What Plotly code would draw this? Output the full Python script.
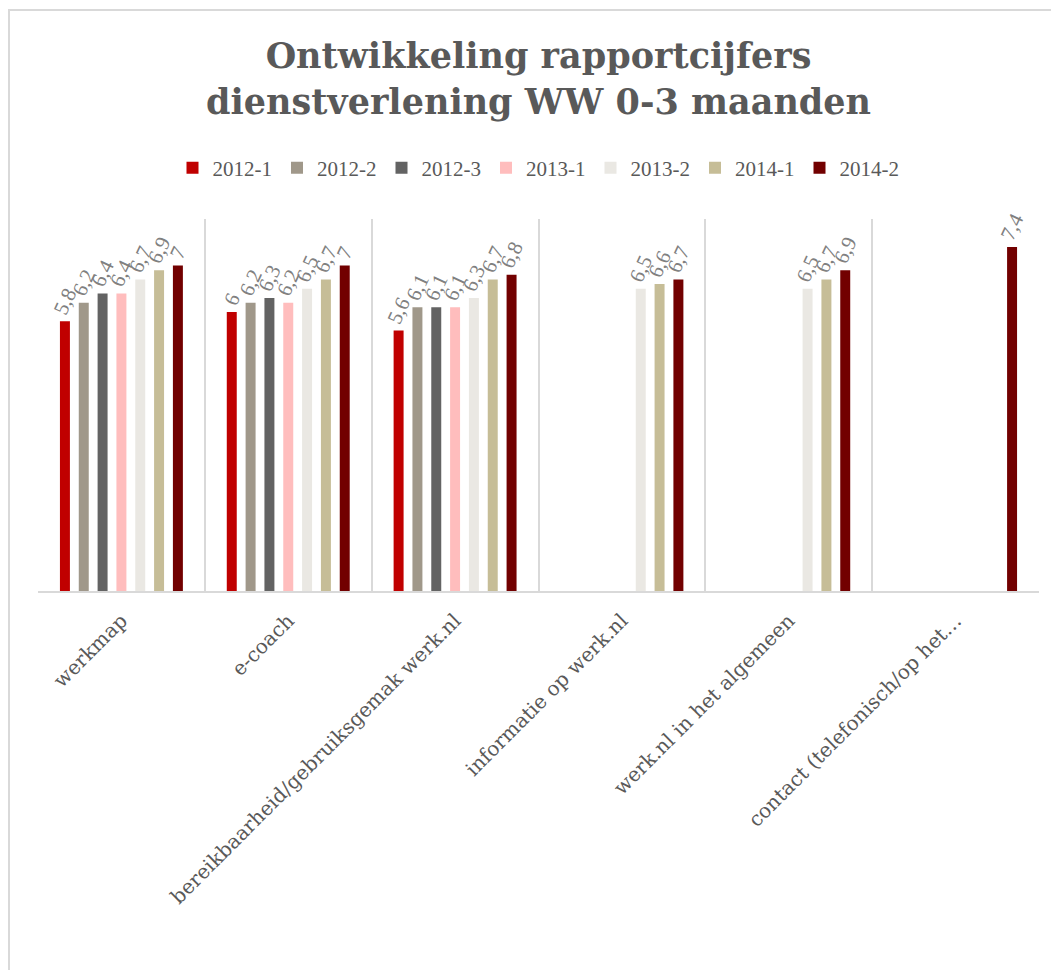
import plotly.graph_objects as go

categories = [
    "werkmap",
    "e-coach",
    "bereikbaarheid/gebruiksgemak werk.nl",
    "informatie op werk.nl",
    "werk.nl in het algemeen",
    "contact (telefonisch/op het…",
]

series_names = ["2012-1", "2012-2", "2012-3", "2013-1", "2013-2", "2014-1", "2014-2"]

s2012_1 = [5.8, 6.0, 5.6, None, None, None]
s2012_2 = [6.2, 6.2, 6.1, None, None, None]
s2012_3 = [6.4, 6.3, 6.1, None, None, None]
s2013_1 = [6.4, 6.2, 6.1, None, None, None]
s2013_2 = [6.7, 6.5, 6.3, 6.5, 6.5, None]
s2014_1 = [6.9, 6.7, 6.7, 6.6, 6.7, None]
s2014_2 = [7.0, 7.0, 6.8, 6.7, 6.9, 7.4]

series_values = [s2012_1, s2012_2, s2012_3, s2013_1, s2013_2, s2014_1, s2014_2]

colors = ["#C00000", "#A0988A", "#636363", "#FFBDBD", "#EAE8E3", "#C6BD97", "#720000"]


def fmt(v):
    if v is None:
        return ""
    return f"{v:g}".replace(".", ",")


fig = go.Figure()
for name, vals, col in zip(series_names, series_values, colors):
    fig.add_trace(go.Bar(
        name=name,
        x=categories,
        y=vals,
        marker=dict(color=col, line=dict(width=0)),
        text=[fmt(v) for v in vals],
        textposition="outside",
        textangle=-65,
        textfont=dict(family="Liberation Serif", size=21, color="#808080"),
        constraintext="none",
        cliponaxis=False,
    ))

# page body has an 8px offset; figure coordinates are target pixels minus 8
W, H = 1059, 970
OFF = 8
L = 38 - OFF
T = 219 - OFF
R = W - (1039 - OFF)
B = H - (591 - OFF)
pw = W - L - R
ph = H - T - B


def px_x(v):
    return (v - OFF - L) / pw


def px_y(v):
    return (H - B - (v - OFF)) / ph


fig.update_layout(
    width=W,
    height=H,
    autosize=False,
    margin=dict(l=L, r=R, t=T, b=B, pad=0, autoexpand=False),
    paper_bgcolor="white",
    plot_bgcolor="white",
    barmode="group",
    bargap=0.21,
    bargroupgap=0.47,
    title=dict(
        text="Ontwikkeling rapportcijfers<br>dienstverlening WW 0-3 maanden",
        font=dict(family="DejaVu Serif", size=35, color="#595959", weight="bold"),
        x=0.5,
        xref="paper",
        xanchor="center",
        y=1 - 60 / H,
        yref="container",
        yanchor="top",
    ),
    legend=dict(
        orientation="h",
        x=0.5,
        xanchor="center",
        y=px_y(168),
        yanchor="middle",
        font=dict(family="Liberation Serif", size=21, color="#595959"),
        itemwidth=30,
        traceorder="normal",
        bgcolor="rgba(0,0,0,0)",
    ),
    xaxis=dict(
        tickson="boundaries",
        showgrid=True,
        gridcolor="#D9D9D9",
        gridwidth=1.5,
        showline=True,
        linecolor="#D9D9D9",
        linewidth=2,
        ticks="",
        tickangle=-45,
        tickfont=dict(family="DejaVu Serif", size=20, color="#595959"),
        ticklabelstandoff=8,
    ),
    yaxis=dict(
        range=[0, 8],
        showgrid=False,
        zeroline=False,
        showticklabels=False,
        showline=False,
        ticks="",
    ),
    showlegend=True,
    shapes=[
        dict(
            type="rect",
            xref="paper",
            yref="paper",
            x0=px_x(9),
            x1=px_x(W + 20),
            y0=px_y(H + 20),
            y1=px_y(10),
            line=dict(color="#D9D9D9", width=2),
            fillcolor="rgba(0,0,0,0)",
            layer="below",
        )
    ],
)

fig.write_html("out.html")
